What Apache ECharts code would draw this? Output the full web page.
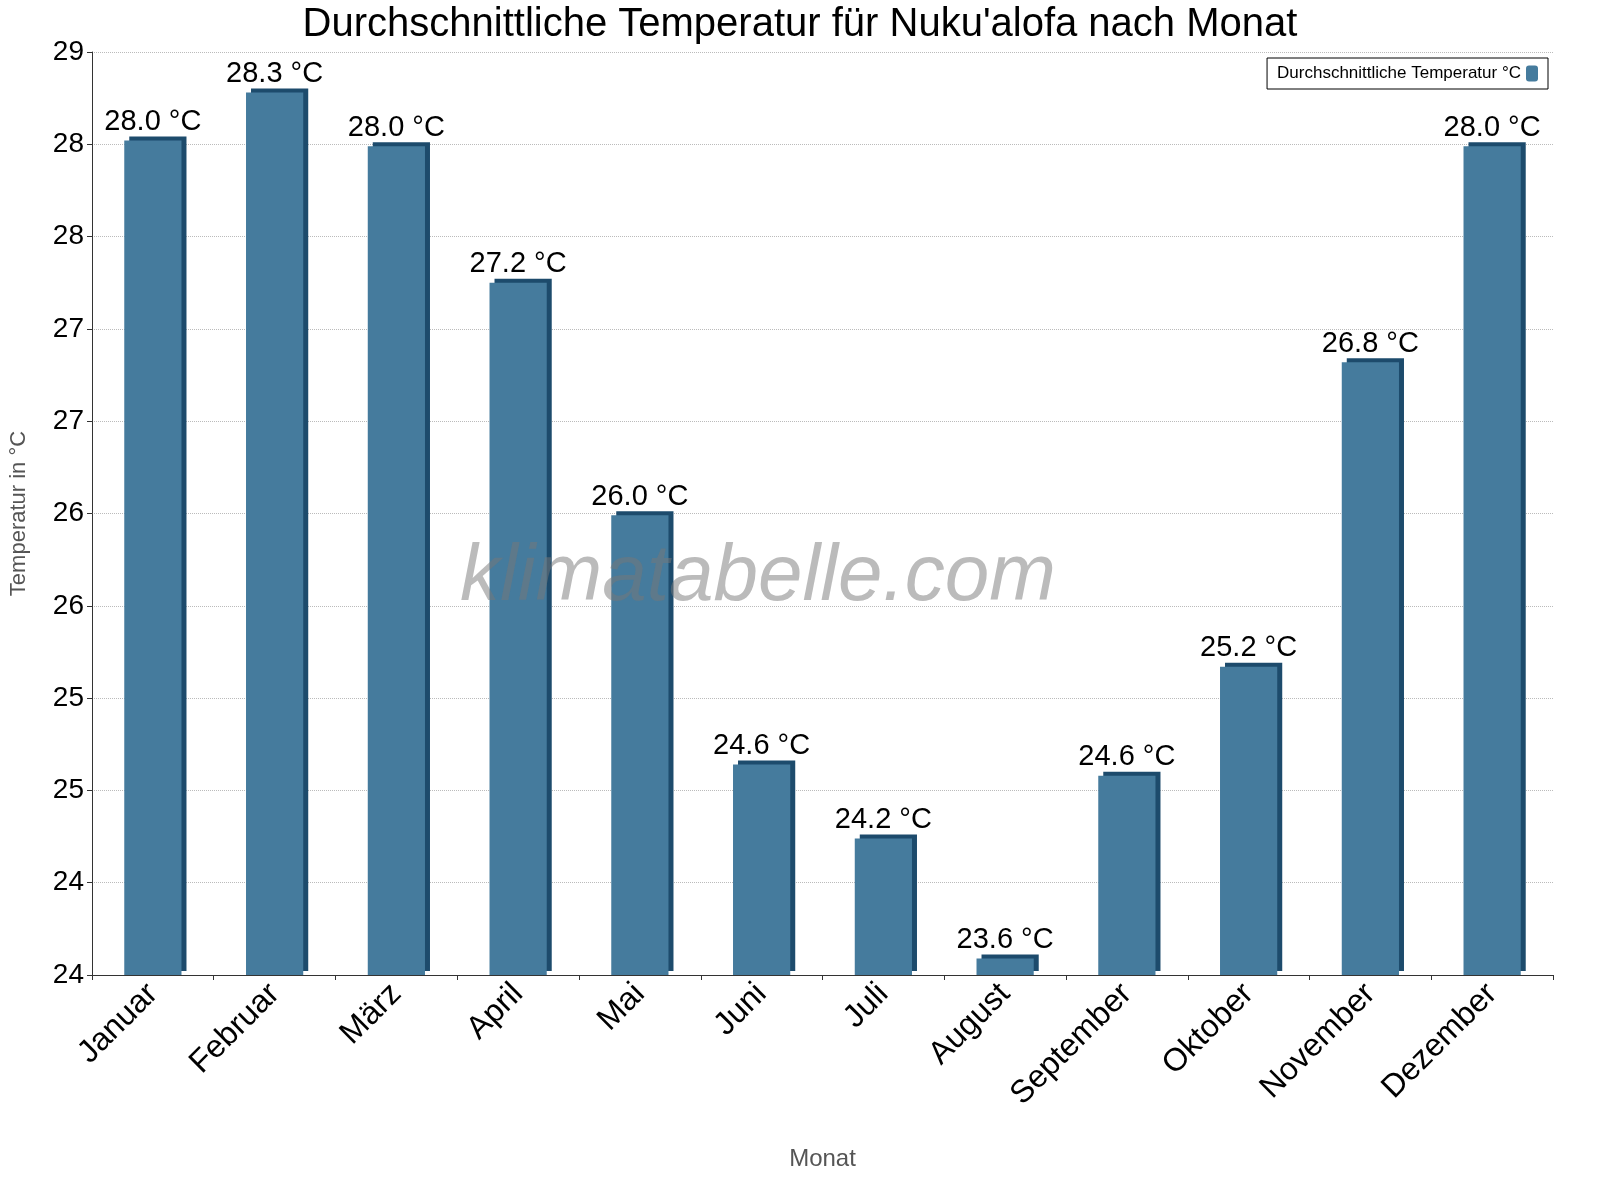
<!DOCTYPE html>
<html>
<head>
<meta charset="utf-8">
<script src="https://cdn.jsdelivr.net/npm/echarts@6/dist/echarts.min.js"></script>
<style>html,body{margin:0;padding:0;background:#fff}#chart{width:1600px;height:1200px}</style>
</head>
<body>
<div id="chart"></div>
<script>
/* Daten */
const months = ['Januar', 'Februar', 'März', 'April', 'Mai', 'Juni', 'Juli', 'August', 'September', 'Oktober', 'November', 'Dezember'];
// Balkenhöhen
const barValues = [28.52, 28.78, 28.49, 27.75, 26.49, 25.14, 24.74, 24.09, 25.08, 25.67, 27.32, 28.49];
// Beschriftungen über den Balken
const labelTexts = ['28.0 °C', '28.3 °C', '28.0 °C', '27.2 °C', '26.0 °C', '24.6 °C', '24.2 °C', '23.6 °C', '24.6 °C', '25.2 °C', '26.8 °C', '28.0 °C'];

let myChart = echarts.init(document.getElementById('chart'));

let option = {
    animation: false,
    textStyle: {fontFamily: 'Liberation Sans, Arial, sans-serif'},
    title: {
        text: "Durchschnittliche Temperatur für Nuku'alofa nach Monat",
        left: 'center',
        top: 0,
        textStyle: {fontSize: 40, fontWeight: 'normal', color: '#000'}
    },
    legend: {
        data: ['Durchschnittliche Temperatur °C'],
        right: 52,
        top: 58,
        orient: 'horizontal',
        align: 'right',
        borderColor: '#000',
        borderWidth: 1,
        borderRadius: 0,
        padding: [7, 10],
        itemWidth: 12,
        itemHeight: 16,
        textStyle: {fontSize: 17, color: '#000'}
    },
    grid: {left: 83, right: 47, top: 52, bottom: 225},
    xAxis: {
        type: 'category',
        data: months,
        name: 'Monat',
        nameLocation: 'middle',
        nameGap: 172,
        nameTextStyle: {fontSize: 24, color: '#555'},
        axisLine: {lineStyle: {color: '#333'}},
        axisTick: {show: true, lineStyle: {color: '#333'}},
        axisLabel: {rotate: 45, fontSize: 32, color: '#000', margin: 14}
    },
    yAxis: {
        type: 'value',
        min: 24,
        max: 29,
        interval: 0.5,
        name: 'Temperatur in °C',
        nameLocation: 'middle',
        nameGap: 62,
        nameTextStyle: {fontSize: 22, color: '#555'},
        axisLine: {show: true, lineStyle: {color: '#333'}},
        axisTick: {show: true, lineStyle: {color: '#333'}},
        axisLabel: {fontSize: 28, color: '#000', formatter: (v) => String(Math.floor(v))},
        splitLine: {lineStyle: {color: '#bbb', type: 'dotted'}}
    },
    series: [{
        name: 'Durchschnittliche Temperatur °C',
        type: 'bar',
        data: barValues,
        barWidth: '47%',
        itemStyle: {
            color: '#457b9d',
            shadowColor: '#1d4b6c',
            shadowOffsetX: 5,
            shadowOffsetY: -4,
            shadowBlur: 0
        },
        label: {
            show: true,
            position: 'top',
            distance: 4,
            fontSize: 29,
            color: '#000',
            formatter: (p) => labelTexts[p.dataIndex]
        }
    }],
    graphic: [{
        type: 'text',
        left: 460,
        top: 538,
        z: 100,
        style: {
            text: 'klimatabelle.com',
            font: 'italic 80px Liberation Sans, Arial, sans-serif',
            fill: 'rgba(120,120,120,0.5)'
        }
    }]
};

myChart.setOption(option);
</script>
</body>
</html>
